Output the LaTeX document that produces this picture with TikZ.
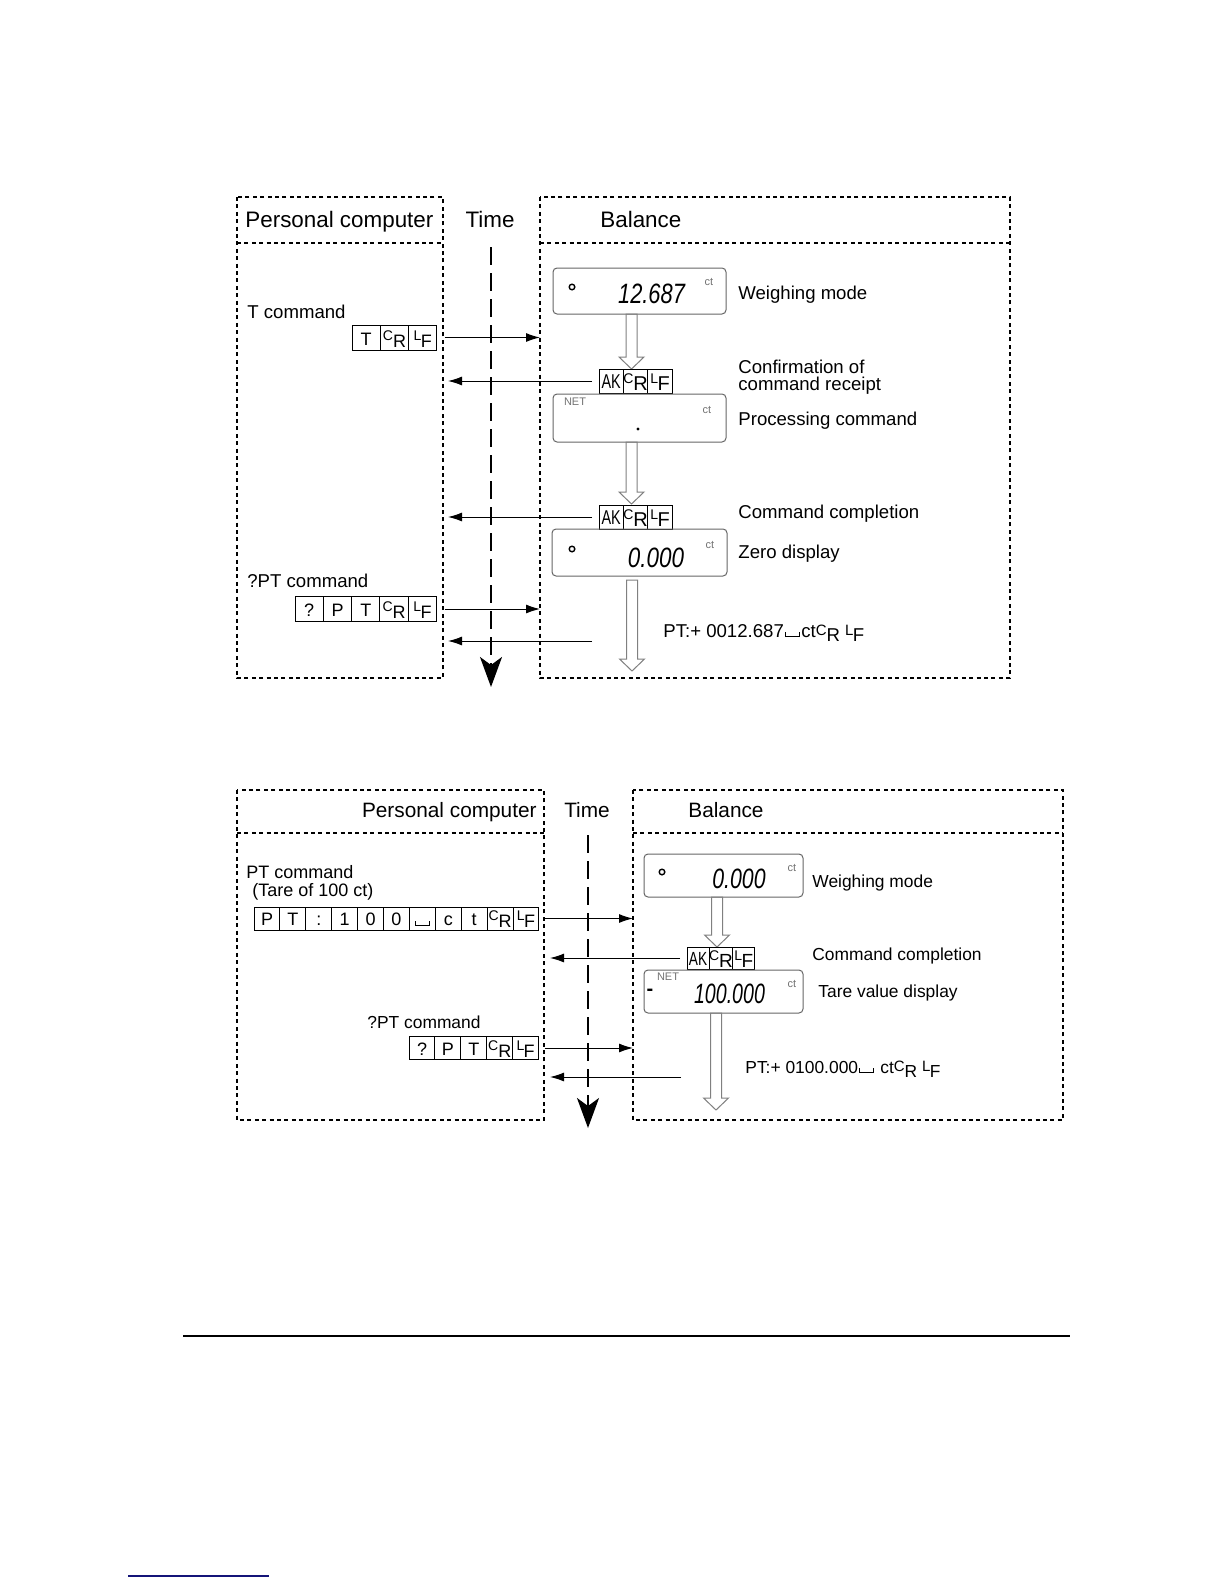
\documentclass[tikz,border=0pt]{standalone}
\usepackage{fontspec}
\setmainfont{Liberation Sans}
\usepackage{graphicx}
\usetikzlibrary{arrows.meta,positioning}
\definecolor{navyline}{RGB}{20,20,120}
\newcommand\crc{\raisebox{2.5pt}{\fontsize{7}{7}\selectfont C}\raisebox{-1pt}{R}}
\newcommand\lfc{\raisebox{2.5pt}{\fontsize{7}{7}\selectfont L}\kern-0.3pt\raisebox{-1pt}{F}}
\newcommand\crl{\raisebox{0.8pt}{\fontsize{7.5}{7.5}\selectfont C}\raisebox{-2.2pt}{R}}
\newcommand\lfl{\raisebox{0.8pt}{\fontsize{7.5}{7.5}\selectfont L}\kern-0.3pt\raisebox{-2.2pt}{F}}
\newcommand\spbox{\kern0.6pt\rule{0.5pt}{2.5pt}\rule{6.5pt}{0.5pt}\rule{0.5pt}{2.5pt}\kern0.6pt}
\newcommand\hollowarr[3]{\draw[hollow] ({#1-5.5},#2) -- ({#1-5.5},{#3-12}) -- ({#1-12.5},{#3-12}) -- (#1,#3) -- ({#1+12.5},{#3-12}) -- ({#1+5.5},{#3-12}) -- ({#1+5.5},#2) -- cycle;}
\begin{document}
\begin{tikzpicture}[x=0.5pt,y=-0.5pt,
  frame/.style={line width=1pt, dash pattern=on 2pt off 1.7pt},
  timeline/.style={line width=1pt, dash pattern=on 9pt off 4pt, -{Stealth[length=15pt,width=11pt,inset=4pt]}},
  msg/.style={line width=0.5pt, -{Latex[length=7pt,width=4.5pt]}},
  hollow/.style={draw=black!50, line width=0.5pt, line join=miter},
  disp/.style={draw=black!60, line width=0.5pt, rounded corners=2pt, inner sep=0pt},
  cellT/.style={draw, line width=0.5pt, inner sep=0pt, outer sep=0pt, minimum width=14.15pt, minimum height=12.5pt, text height=8pt, text depth=0.5pt, font=\fontsize{9}{9}\selectfont},
  cellA/.style={draw, line width=0.5pt, inner sep=0pt, outer sep=0pt, minimum width=12.15pt, minimum height=12pt, text height=8pt, text depth=0.5pt, font=\fontsize{10}{10}\selectfont},
  cellB/.style={draw, line width=0.5pt, inner sep=0pt, outer sep=0pt, minimum width=12.95pt, minimum height=11.5pt, text height=7.5pt, text depth=0.5pt, font=\fontsize{9}{9}\selectfont},
  cellC/.style={draw, line width=0.5pt, inner sep=0pt, outer sep=0pt, minimum width=11pt, minimum height=11pt, text height=7.5pt, text depth=0.5pt, font=\fontsize{9.5}{9.5}\selectfont},
  hdrT/.style={inner sep=0pt, font=\fontsize{11.2}{12}\selectfont},
  hdrB/.style={inner sep=0pt, font=\fontsize{10.4}{12}\selectfont},
  lblT/.style={inner sep=0pt, anchor=base west, font=\fontsize{9.3}{11}\selectfont},
  lblB/.style={inner sep=0pt, anchor=base west, font=\fontsize{8.7}{10}\selectfont},
  lblP/.style={inner sep=0pt, anchor=base west, font=\fontsize{9}{10}\selectfont},
  digit/.style={inner sep=0pt, anchor=base, font=\fontsize{14}{14}\selectfont\itshape},
  unit/.style={inner sep=0pt, text=black!55, font=\fontsize{5.5}{6}\selectfont},
  led/.style={circle, draw, line width=0.7pt, minimum size=2.8pt, inner sep=0pt}
]
\useasboundingbox (0,0) rectangle (1224,1584);
\fill[white] (0,0) rectangle (1224,1584);

% ================= TOP DIAGRAM =================
\draw[frame] (237,197) rectangle (443,678);
\draw[frame] (237,243) -- (443,243);
\draw[frame] (540,197) rectangle (1010,678);
\draw[frame] (540,243) -- (1010,243);
\node[hdrT, anchor=base west] (pc1) at (245,227) {Personal computer};
\node[hdrT, anchor=base] (time1) at (490,227) {Time};
\node[hdrT, anchor=base west] (bal1) at (600,227) {Balance};
\coordinate (tl1s) at (491,247);
\coordinate (tl1e) at (491,687);
\draw[timeline] (tl1s) -- (tl1e);
\coordinate (balL1) at (540,0);
\coordinate (pcR1) at (448,0);

% T command
\node[lblT] (tcmd) at (247,318) {T command};
\node[cellT] (ta) at (366.2,337.5) {T};
\node[cellT,right=0pt of ta] (tb) {\crc};
\node[cellT,right=0pt of tb] (tc) {\lfc};
\draw[msg] ([xshift=4pt]tc.east) -- (tc.east -| balL1);

% display 1
\node[disp, minimum width=86.5pt, minimum height=23pt] (d1) at (639.5,291) {};
\node[led] (c1) at (572,287) {};
\node[digit] (n1) at (651.5,303) {\scalebox{0.78}[1]{12.687}};
\node[unit] (u1) at (709,282) {ct};
\node[lblT] (w1) at (738,299) {Weighing mode};
\hollowarr{631.5}{314}{369}

% AK 1
\node[cellA] (aa) at (611.2,381) {\scalebox{0.72}[1]{AK}};
\node[cellA,right=0pt of aa] (ab) {\crc};
\node[cellA,right=0pt of ab] (ac) {\lfc};
\draw[msg] ([xshift=-3.5pt]aa.west) -- (aa.west -| pcR1);
\node[lblT] (conf1) at (738,373) {Confirmation of};
\node[lblT] (conf2) at (738,390) {command receipt};

% display 2
\node[disp, minimum width=86.5pt, minimum height=24pt] (d2) at (639.5,418) {};
\node[unit] (net2) at (575,402) {NET};
\node[unit] (u2) at (707,410) {ct};
\node[circle, fill, inner sep=0pt, minimum size=1.6pt] (dot2) at (638,429) {};
\node[lblT] (proc) at (738,425) {Processing command};
\hollowarr{631.5}{442}{504}

% AK 2
\node[cellA] (ba) at (611.2,517) {\scalebox{0.72}[1]{AK}};
\node[cellA,right=0pt of ba] (bb) {\crc};
\node[cellA,right=0pt of bb] (bc) {\lfc};
\draw[msg] ([xshift=-3.5pt]ba.west) -- (ba.west -| pcR1);
\node[lblT] (comp1) at (738,518) {Command completion};

% display 3
\node[disp, minimum width=87.5pt, minimum height=23.5pt] (d3) at (639.5,552.5) {};
\node[led] (c3) at (572,549) {};
\node[digit] (n3) at (656,567) {\scalebox{0.8}[1]{0.000}};
\node[unit] (u3) at (710,545) {ct};
\node[lblT] (zero) at (738,558) {Zero display};
\hollowarr{632}{580}{671}

% ?PT command
\node[lblT] (qcmd) at (247,587) {?PT command};
\node[cellT] (qa) at (309.2,609) {?};
\node[cellT,right=0pt of qa] (qb) {P};
\node[cellT,right=0pt of qb] (qc) {T};
\node[cellT,right=0pt of qc] (qd) {\crc};
\node[cellT,right=0pt of qd] (qe) {\lfc};
\draw[msg] ([xshift=4pt]qe.east) -- (qe.east -| balL1);
\coordinate (resp1) at (592,641);
\draw[msg] (resp1) -- (resp1 -| pcR1);
\node[lblT] (pt1) at (663,637) {PT:+ 0012.687\spbox ct\crl\ \lfl};

% ================= BOTTOM DIAGRAM =================
\draw[frame] (237,790) rectangle (544,1120);
\draw[frame] (237,833) -- (544,833);
\draw[frame] (633,790) rectangle (1063,1120);
\draw[frame] (633,833) -- (1063,833);
\node[hdrB, anchor=base east] (pc2) at (537,817) {Personal computer};
\node[hdrB, anchor=base] (time2) at (587,817) {Time};
\node[hdrB, anchor=base west] (bal2) at (688,817) {Balance};
\coordinate (tl2s) at (588,835);
\coordinate (tl2e) at (588,1128);
\draw[timeline] (tl2s) -- (tl2e);
\coordinate (balL2) at (633,0);
\coordinate (pcR2) at (550,0);

% PT command
\node[lblP] (ptc) at (246,878) {PT command};
\node[lblP] (tare) at (252,896) {(Tare of 100 ct)};
\node[cellB] (pa) at (267,918.5) {P};
\node[cellB,right=0pt of pa] (pb) {T};
\node[cellB,right=0pt of pb] (pc) {:};
\node[cellB,right=0pt of pc] (pd) {1};
\node[cellB,right=0pt of pd] (pe) {0};
\node[cellB,right=0pt of pe] (pf) {0};
\node[cellB,right=0pt of pf] (pg) {\spbox};
\node[cellB,right=0pt of pg] (ph) {c};
\node[cellB,right=0pt of ph] (pi) {t};
\node[cellB,right=0pt of pi] (pj) {\crc};
\node[cellB,right=0pt of pj] (pk) {\lfc};
\draw[msg] ([xshift=3pt]pk.east) -- (pk.east -| balL2);

% display 4
\node[disp, minimum width=79.5pt, minimum height=21.5pt] (d4) at (723.5,875.5) {};
\node[led] (c4) at (662,872) {};
\node[digit] (n4) at (739,888) {\scalebox{0.76}[1]{0.000}};
\node[unit] (u4) at (792,868) {ct};
\node[lblB] (w2) at (812,887) {Weighing mode};
\hollowarr{717}{897}{947}

% AK 3
\node[cellC] (ka) at (698,958) {\scalebox{0.72}[1]{AK}};
\node[cellC,right=0pt of ka] (kb) {\crc};
\node[cellC,right=0pt of kb] (kc) {\lfc};
\draw[msg] ([xshift=-3.5pt]ka.west) -- (ka.west -| pcR2);
\node[lblB] (comp2) at (812,960) {Command completion};

% display 5
\node[disp, minimum width=79.5pt, minimum height=21.5pt] (d5) at (723.5,991.5) {};
\node[unit] (net5) at (668,977) {NET};
\node[inner sep=0pt, font=\fontsize{10}{10}\selectfont\bfseries] (minus5) at (650,992) {-};
\node[digit] (n5) at (729.5,1003) {\scalebox{0.7}[1]{100.000}};
\node[unit] (u5) at (792,984) {ct};
\node[lblB] (tarev) at (818,997) {Tare value display};
\hollowarr{716}{1013}{1110}

% ?PT command
\node[lblB] (qcmd2) at (367,1028) {?PT command};
\node[cellB] (ra) at (422,1048) {?};
\node[cellB,right=0pt of ra] (rb) {P};
\node[cellB,right=0pt of rb] (rc) {T};
\node[cellB,right=0pt of rc] (rd) {\crc};
\node[cellB,right=0pt of rd] (re) {\lfc};
\draw[msg] ([xshift=3pt]re.east) -- (re.east -| balL2);
\coordinate (resp2) at (681,1077);
\draw[msg] (resp2) -- (resp2 -| pcR2);
\node[lblB] (pt2) at (745,1073) {PT:+ 0100.000\spbox\ ct\crl\ \lfl};

% page rules
\coordinate (ruleA) at (183,1336);
\coordinate (ruleB) at (1070,1336);
\draw[line width=1pt] (ruleA) -- (ruleB);
\coordinate (linkA) at (128,1576);
\coordinate (linkB) at (269,1576);
\draw[navyline, line width=1pt] (linkA) -- (linkB);
\end{tikzpicture}
\end{document}
